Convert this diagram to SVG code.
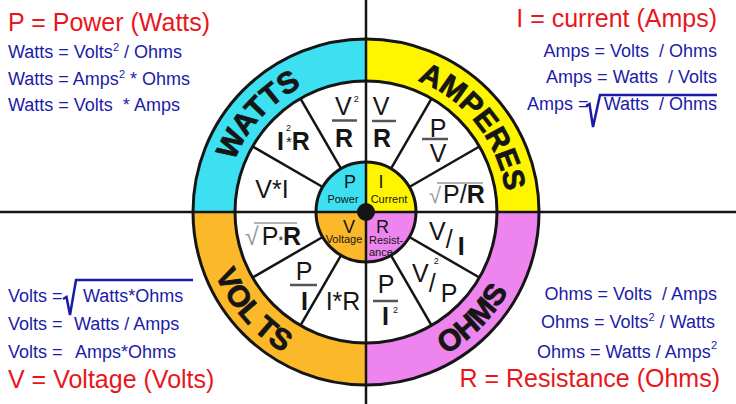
<svg xmlns="http://www.w3.org/2000/svg" width="736" height="404" viewBox="0 0 736 404">
<style>
text{font-family:"Liberation Sans",Arial,sans-serif}
.red{fill:#E8161B;font-size:25px}
.blue{fill:#1B1BA8;font-size:18px}
.pre{white-space:pre}
.w{fill:#151515;font-size:25px}
.b{font-weight:bold}
.sm{font-size:9px}
.band{font-size:30px;font-weight:bold;fill:#151515;stroke:#151515;stroke-width:0.8}
.ctr{fill:#151515;font-size:18px}
.lbl{fill:#151515;font-size:11px}
.bar{stroke:#555;stroke-width:2.5}
.gray{fill:#999}
.ov{stroke:#999;stroke-width:1.5}
.spoke{stroke:#151515;stroke-width:2.5}
.ring{fill:none;stroke:#151515;stroke-width:3}
.rad{fill:none;stroke:#1B1BA8;stroke-width:2.5;stroke-linejoin:miter}
</style>
<defs>
<path id="arcW" d="M225.2,219.4 A141,141 0 0 1 358.6,71.2"/>
<path id="arcA" d="M382,71.9 A141,141 0 0 1 506.1,228"/>
<path id="arcV" d="M203.4,200.6 A163,163 0 0 0 354.6,374.6"/>
<path id="arcO" d="M366,375 A163,163 0 0 0 529,212"/>
</defs>
<rect width="736" height="404" fill="#fff"/>

<g id="wheel">
<path d="M366,212 L193,212 A173,173 0 0 1 366,39 Z" fill="#3CE0F0"/>
<path d="M366,212 L366,39 A173,173 0 0 1 539,212 Z" fill="#FFF500"/>
<path d="M366,212 L539,212 A173,173 0 0 1 366,385 Z" fill="#EE85EE"/>
<path d="M366,212 L366,385 A173,173 0 0 1 193,212 Z" fill="#FBB829"/>
<circle cx="366" cy="212" r="173" class="ring"/>
<circle cx="366" cy="212" r="131" fill="#fff" stroke="#151515" stroke-width="3"/>
</g>

<g id="spokes">
<line class="spoke" x1="409.3" y1="237" x2="479.4" y2="277.5"/>
<line class="spoke" x1="391" y1="255.3" x2="431.5" y2="325.4"/>
<line class="spoke" x1="341" y1="255.3" x2="300.5" y2="325.4"/>
<line class="spoke" x1="322.7" y1="237" x2="252.6" y2="277.5"/>
<line class="spoke" x1="322.7" y1="187" x2="252.6" y2="146.5"/>
<line class="spoke" x1="341" y1="168.7" x2="300.5" y2="98.6"/>
<line class="spoke" x1="391" y1="168.7" x2="431.5" y2="98.6"/>
<line class="spoke" x1="409.3" y1="187" x2="479.4" y2="146.5"/>
</g>

<g id="center">
<path d="M366,212 L316,212 A50,50 0 0 1 366,162 Z" fill="#3CE0F0"/>
<path d="M366,212 L366,162 A50,50 0 0 1 416,212 Z" fill="#FFF500"/>
<path d="M366,212 L416,212 A50,50 0 0 1 366,262 Z" fill="#EE85EE"/>
<path d="M366,212 L366,262 A50,50 0 0 1 316,212 Z" fill="#FBB829"/>
<circle cx="366" cy="212" r="50" class="ring"/>
</g>

<g id="axes">
<line x1="0" y1="212" x2="736" y2="212" stroke="#151515" stroke-width="2.5"/>
<line x1="366" y1="0" x2="366" y2="404" stroke="#151515" stroke-width="2.5"/>
<circle cx="366" cy="212" r="9" fill="#151515"/>
</g>

<g id="center-labels">
<text class="ctr" x="350" y="188" text-anchor="middle">P</text>
<text class="lbl" x="343" y="203" text-anchor="middle">Power</text>
<text class="ctr" x="381" y="188" text-anchor="middle">I</text>
<text class="lbl" x="389" y="203" text-anchor="middle">Current</text>
<text class="ctr" x="349" y="233" text-anchor="middle">V</text>
<text class="lbl" x="344" y="243" text-anchor="middle">Voltage</text>
<text class="ctr" x="382.5" y="233" text-anchor="middle">R</text>
<text class="lbl" x="369" y="244">Resist-</text>
<text class="lbl" x="369" y="256">ance</text>
</g>

<g id="band-labels">
<text class="band"><textPath href="#arcW" startOffset="50%" text-anchor="middle">WATTS</textPath></text>
<text class="band"><textPath href="#arcA" startOffset="50%" text-anchor="middle">AMPERES</textPath></text>
<text class="band"><textPath href="#arcV" startOffset="50%" text-anchor="middle">VOL<tspan dx="8">TS</tspan></textPath></text>
<text class="band"><textPath href="#arcO" startOffset="50%" text-anchor="middle">OHMS</textPath></text>
</g>

<g id="watts-formulas">
<text class="w" x="335" y="115">V<tspan font-size="9" dx="2" dy="-13">2</tspan></text>
<line class="bar" x1="332" y1="120.5" x2="357" y2="120.5"/>
<text class="w b" x="344" y="147" text-anchor="middle">R</text>
<text class="w b" x="277" y="150" font-size="26">I<tspan font-size="9" font-weight="normal" dx="2" dy="-19">2</tspan><tspan font-weight="normal" font-size="15" dx="-5" dy="16">*</tspan><tspan dy="3">R</tspan></text>
<text class="w" x="272" y="198" text-anchor="middle">V*I</text>
</g>

<g id="amps-formulas">
<text class="w" x="381" y="115" text-anchor="middle">V</text>
<line class="bar" x1="372" y1="121" x2="396" y2="121"/>
<text class="w b" x="382" y="147" text-anchor="middle">R</text>
<text class="w" x="438" y="137" text-anchor="middle">P</text>
<line class="bar" x1="422" y1="139" x2="448" y2="139"/>
<text class="w" x="438" y="162" text-anchor="middle">V</text>
<line class="ov" x1="437" y1="183" x2="483" y2="183"/>
<text class="w" x="429" y="203" font-size="26"><tspan class="gray" font-size="22">√</tspan><tspan dx="2">P/</tspan><tspan class="b">R</tspan></text>
</g>

<g id="volts-formulas">
<line class="ov" x1="254" y1="223" x2="297" y2="223"/>
<text class="w" x="245" y="245" font-size="22"><tspan class="gray">√</tspan><tspan dx="3">P</tspan><tspan font-size="12">*</tspan><tspan class="b">R</tspan></text>
<text class="w" x="304" y="280" text-anchor="middle">P</text>
<line class="bar" x1="290" y1="285" x2="317" y2="285"/>
<text class="w b" x="304.5" y="310" text-anchor="middle">I</text>
<text class="w" x="343" y="310" text-anchor="middle">I*R</text>
</g>

<g id="ohms-formulas">
<text class="w" x="429" y="240">V<tspan dy="8">/</tspan><tspan class="b" dx="5" dy="7">I</tspan></text>
<text class="w" x="412" y="282">V<tspan font-size="9" dx="5" dy="-18">2</tspan><tspan dx="-10" dy="28">/</tspan><tspan dx="5" dy="10">P</tspan></text>
<text class="w" x="386" y="293" text-anchor="middle">P</text>
<line class="bar" x1="373" y1="301" x2="398" y2="301"/>
<text class="w b" x="382" y="325">I<tspan font-size="9" font-weight="normal" dx="4" dy="-12">2</tspan></text>
</g>

<g id="power-text">
<text class="red" x="8" y="31">P = Power (Watts)</text>
<text class="blue" x="8" y="58">Watts = Volts<tspan font-size="11" dy="-7">2</tspan><tspan dy="7"> / Ohms</tspan></text>
<text class="blue" x="8" y="85">Watts = Amps<tspan font-size="11" dy="-7">2</tspan><tspan dy="7"> * Ohms</tspan></text>
<text class="blue pre" x="8" y="111">Watts = Volts  * Amps</text>
</g>

<g id="current-text">
<text class="red" x="717" y="27" text-anchor="end" font-size="24">I = current (Amps)</text>
<text class="blue pre" x="717" y="57" text-anchor="end">Amps = Volts  / Ohms</text>
<text class="blue pre" x="717" y="83" text-anchor="end">Amps = Watts  / Volts</text>
<text class="blue" x="527" y="110" font-size="17.5">Amps =</text>
<path class="rad" d="M586,106 L589.5,104 L593,127 L600,95 L717,95"/>
<text class="blue pre" x="717" y="110" text-anchor="end">Watts  / Ohms</text>
</g>

<g id="voltage-text">
<text class="blue" x="8" y="302">Volts =</text>
<path class="rad" d="M63,299 L66.5,297 L70,315 L76,280 L193,280"/>
<text class="blue" x="83" y="302">Watts*Ohms</text>
<text class="blue" x="8" y="330">Volts =</text>
<text class="blue" x="74" y="330">Watts / Amps</text>
<text class="blue" x="8" y="358">Volts =</text>
<text class="blue" x="75" y="358">Amps*Ohms</text>
<text class="red" x="8" y="388">V = Voltage (Volts)</text>
</g>

<g id="resistance-text">
<text class="blue pre" x="717" y="300" text-anchor="end">Ohms = Volts  / Amps</text>
<text class="blue" x="715" y="328" text-anchor="end">Ohms = Volts<tspan font-size="11" dy="-7">2</tspan><tspan dy="7"> / Watts</tspan></text>
<text class="blue" x="717" y="358" text-anchor="end">Ohms = Watts / Amps<tspan font-size="11" dy="-9">2</tspan></text>
<text class="red" x="720" y="387" text-anchor="end">R = Resistance (Ohms)</text>
</g>
</svg>
